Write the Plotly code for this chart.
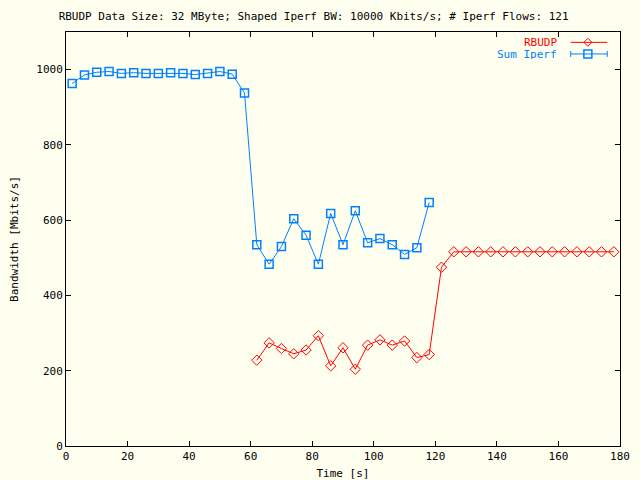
import plotly.graph_objects as go

# ---- data ----
iperf_time = [2, 6, 10, 14, 18, 22, 26, 30, 34, 38, 42, 46, 50, 54, 58,
              62, 66, 70, 74, 78, 82, 86, 90, 94, 98, 102, 106, 110, 114, 118]
iperf_bw = [963, 986, 993, 995, 990, 992, 990, 990, 992, 990, 987, 990, 995, 988, 938,
            535, 483, 530, 604, 560, 483, 618, 535, 625, 540, 551, 535, 509, 527, 647]

rbudp_time = [62, 66, 70, 74, 78, 82, 86, 90, 94, 98, 102, 106, 110, 114, 118,
              122, 126, 130, 134, 138, 142, 146, 150, 154, 158, 162, 166, 170, 174, 178]
rbudp_bw = [228, 274, 259, 245, 255, 293, 213, 261, 204, 268, 282, 268, 279, 235, 243,
            475, 516, 516, 516, 516, 516, 516, 516, 516, 516, 516, 516, 516, 516, 516]

x_ticks = [0, 20, 40, 60, 80, 100, 120, 140, 160, 180]
y_ticks = [0, 200, 400, 600, 800, 1000]

title_text = "RBUDP Data Size: 32 MByte; Shaped Iperf BW: 10000 Kbits/s; # Iperf Flows: 121"
series_names = ["RBUDP", "Sum Iperf"]

RED = "#FF0000"
BLUE = "#0080FF"
BG = "#FFFFF0"
FONT = "DejaVu Sans Mono"

fig = go.Figure()
fig.add_trace(go.Scatter(
    x=iperf_time, y=iperf_bw, mode="lines+markers", name=series_names[1],
    line=dict(color=BLUE, width=1),
    marker=dict(symbol="square-open", size=8, color=BLUE, line=dict(width=1.5, color=BLUE)),
    showlegend=False))
fig.add_trace(go.Scatter(
    x=rbudp_time, y=rbudp_bw, mode="lines+markers", name=series_names[0],
    line=dict(color=RED, width=1),
    marker=dict(symbol="diamond-open", size=8, color=RED, line=dict(width=1, color=RED)),
    showlegend=False))

# ---- custom gnuplot-style key (text left of sample) ----
shapes = []
annotations = []
key_rows = [(0.975, series_names[0], RED, "diamond"), (0.947, series_names[1], BLUE, "square")]
lx0, lx1, lxm = 0.911, 0.977, 0.942
for yk, name, col, sym in key_rows:
    annotations.append(dict(x=0.888, y=yk, xref="paper", yref="paper", text=name,
                            showarrow=False, xanchor="right", yanchor="middle",
                            height=10, borderpad=0, valign="middle",
                            font=dict(family=FONT, size=11, color=col)))
    shapes.append(dict(type="line", xref="paper", yref="paper", x0=lx0, x1=lx1, y0=yk, y1=yk,
                       line=dict(color=col, width=1)))
    if sym == "diamond":
        shapes.append(dict(type="path", xref="paper", yref="paper", xsizemode="pixel",
                           ysizemode="pixel", xanchor=lxm, yanchor=yk,
                           path="M -4 0 L 0 4 L 4 0 L 0 -4 Z", line=dict(color=col, width=1)))
    else:
        for xc in (lx0, lx1):
            shapes.append(dict(type="line", xref="paper", yref="paper", xsizemode="pixel",
                               ysizemode="pixel", xanchor=xc, yanchor=yk, x0=0, x1=0, y0=-3, y1=3,
                               line=dict(color=col, width=1)))
        shapes.append(dict(type="rect", xref="paper", yref="paper", xsizemode="pixel",
                           ysizemode="pixel", xanchor=lxm, yanchor=yk, x0=-4, x1=4, y0=-4, y1=4,
                           line=dict(color=col, width=1.5)))

fig.update_layout(
    width=640, height=480,
    margin=dict(l=66, r=20, t=32, b=34, autoexpand=False),
    paper_bgcolor=BG, plot_bgcolor=BG,
    font=dict(family=FONT, size=11, color="black"),
    title=dict(text=title_text, x=0.49, xanchor="center", y=0.967, yanchor="middle",
               font=dict(family=FONT, size=11, color="black")),
    shapes=shapes, annotations=annotations,
    showlegend=False,
)
fig.update_xaxes(range=[0, 180], tickvals=x_ticks, ticks="inside", ticklen=5,
                 showline=True, linecolor="black", linewidth=1, mirror="ticks",
                 tickcolor="black", showgrid=False, zeroline=False, automargin=False,
                 title=dict(text="Time [s]", font=dict(family=FONT, size=11)))
fig.update_yaxes(range=[0, 1100], tickvals=y_ticks, ticks="inside", ticklen=5,
                 showline=True, linecolor="black", linewidth=1, mirror="ticks",
                 tickcolor="black", showgrid=False, zeroline=False, automargin=False,
                 title=dict(text="Bandwidth [Mbits/s]", font=dict(family=FONT, size=11)))

fig.write_html("out.html",
               config={"displayModeBar": False},
               post_script="document.body.style.margin='0px';"
                           "document.body.style.background='#FFFFF0';")
